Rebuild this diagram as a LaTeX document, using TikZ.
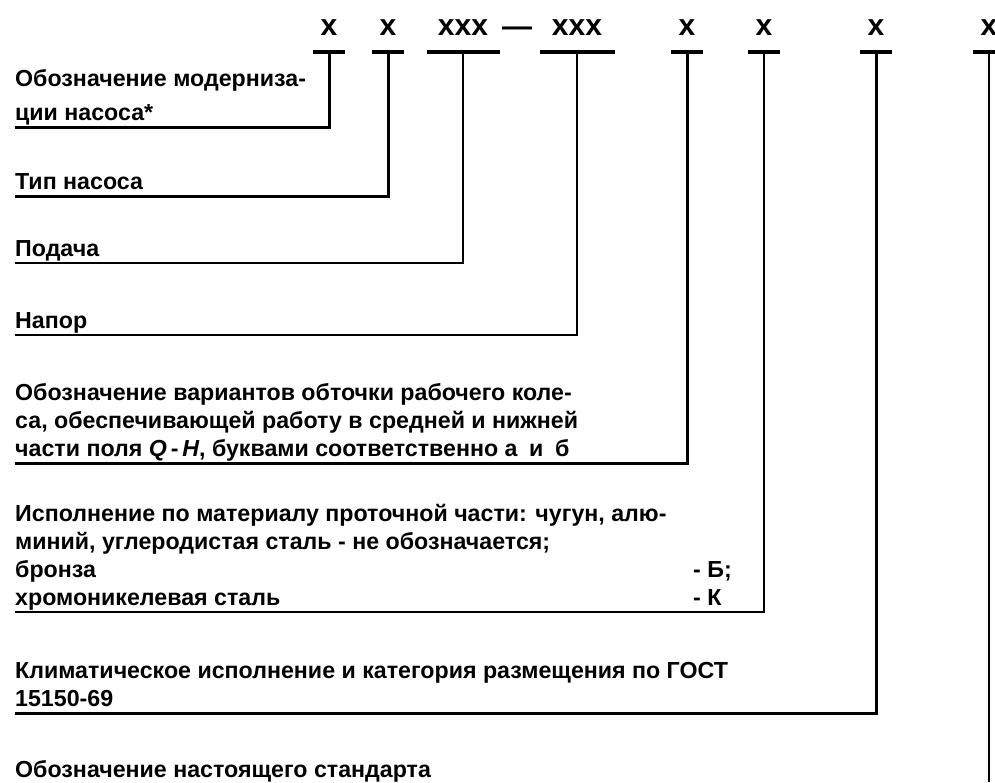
\documentclass[tikz,border=0pt]{standalone}
\usepackage{fontspec}
\setmainfont{Liberation Sans}
\usetikzlibrary{positioning}

\begin{document}
\begin{tikzpicture}[x=1pt, y=-1pt,
  sym/.style = {font=\fontsize{30}{30}\selectfont\bfseries, inner sep=0pt},
  bar/.style = {fill, inner sep=0pt, minimum height=4pt, minimum width=32pt},
  lbl/.style = {font=\fontsize{23.2}{28}\selectfont\bfseries, align=left, anchor=south west, inner sep=0pt, execute at end node=\strut},
  lead/.style = {line width=1.8pt},
  leadthick/.style = {line width=3pt}]
\useasboundingbox (0,0) rectangle (995,782);

% bars under the symbols
\node[bar] (b1) at (329,52) {};
\node[bar] (b2) at (388,52) {};
\node[bar, minimum width=73pt] (b3) at (463,52) {};
\node[bar, minimum width=75pt] (b4) at (577,52) {};
\node[bar] (b5) at (687,52) {};
\node[bar] (b6) at (764,52) {};
\node[bar] (b7) at (876,52) {};
\node[bar] (b8) at (989,52) {};

\node[sym] (s1) [above=14pt of b1] {x};
\node[sym] (s2) [above=14pt of b2] {x};
\node[sym] (s3) [above=14pt of b3] {xxx};
\node[sym] (s4) [above=14pt of b4] {xxx};
\node[sym] (s5) [above=14pt of b5] {x};
\node[sym] (s6) [above=14pt of b6] {x};
\node[sym] (s7) [above=14pt of b7] {x};
\node[sym] (s8) [above=14pt of b8] {x};
\node[sym, anchor=base] (dash) at (517,36) {—};

% ends of the leader lines
\coordinate (e1) at (15,127);
\coordinate (e2) at (15,196);
\coordinate (e3) at (15,263);
\coordinate (e4) at (15,335);
\coordinate (e5) at (15,463);
\coordinate (e6) at (15,612);
\coordinate (e7) at (15,713);
\coordinate (e8) at (989,782);

\node[lbl] (l1) at ([yshift=-2.4pt]e1) {Обозначение модерниза-\\[6pt]ции насоса*};
\node[lbl] (l2) at ([yshift=-2.4pt]e2) {Тип насоса};
\node[lbl] (l3) at ([yshift=-2.4pt]e3) {Подача};
\node[lbl] (l4) at ([yshift=-2.4pt]e4) {Напор};
\node[lbl] (l5) at ([yshift=-2.4pt]e5) {Обозначение вариантов обточки рабочего коле-\\
  са, обеспечивающей работу в средней и нижней\\
  части поля \textit{Q}\,-\,\textit{H}, буквами соответственно а\enspace и\enspace б};
\node[lbl] (l6) at ([yshift=-2.4pt]e6) {Исполнение по материалу проточной части: чугун, алю-\\
  миний, углеродистая сталь - не обозначается;\\
  \makebox[678pt][l]{бронза}- Б;\\
  \makebox[678pt][l]{хромоникелевая сталь}- К};
\node[lbl] (l7) at ([yshift=-2.4pt]e7) {Климатическое исполнение и категория размещения по ГОСТ\\15150-69};
\node[lbl, anchor=base west] (l8) at (15,777) {Обозначение настоящего стандарта};

\draw[leadthick] (b1.center) |- (e1);
\draw[leadthick] (b2.center) |- (e2);
\draw[lead] (b3.center) |- (e3);
\draw[lead] (b4.center) |- (e4);
\draw[leadthick] (b5.center) |- (e5);
\draw[lead] (b6.center) |- (e6);
\draw[leadthick] (b7.center) |- (e7);
\draw[lead] (b8.center) -- (e8);

\end{tikzpicture}
\end{document}
